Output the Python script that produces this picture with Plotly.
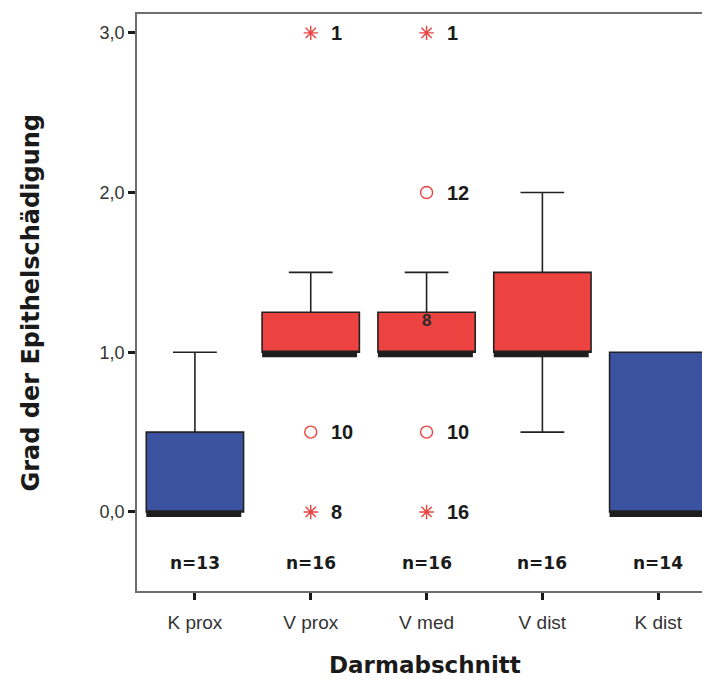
import plotly.graph_objects as go

# ---- data ----
categories = ["K prox", "V prox", "V med", "V dist", "K dist"]
q1 = [0.0, 1.0, 1.0, 1.0, 0.0]
median = [0.0, 1.0, 1.0, 1.0, 0.0]
q3 = [0.5, 1.25, 1.25, 1.5, 1.0]
lower_whisker = [0.0, 1.0, 1.0, 0.5, 0.0]
upper_whisker = [1.0, 1.5, 1.5, 2.0, 1.0]
box_colors = ["#3A52A0", "#EC4240", "#EC4240", "#EC4240", "#3A52A0"]
n_labels = ["n=13", "n=16", "n=16", "n=16", "n=14"]

# outliers: category, value, kind ("extreme" = star, "outlier" = circle), case label
outlier_cat = ["V prox", "V prox", "V prox", "V med", "V med", "V med", "V med"]
outlier_val = [3.0, 0.5, 0.0, 3.0, 2.0, 0.5, 0.0]
outlier_kind = ["extreme", "outlier", "extreme", "extreme", "outlier", "outlier", "extreme"]
outlier_lbl = ["1", "10", "8", "1", "12", "10", "16"]
# case label drawn inside the V med box (marker hidden by box)
hidden_cat = ["V med"]
hidden_val = [1.2]
hidden_lbl = ["8"]

y_ticks = [0.0, 1.0, 2.0, 3.0]

BOX_W = 0.84
fig = go.Figure()

for i, c in enumerate(categories):
    fig.add_trace(go.Box(
        x=[c], q1=[q1[i]], median=[median[i]], q3=[q3[i]],
        lowerfence=[lower_whisker[i]], upperfence=[upper_whisker[i]],
        fillcolor=box_colors[i], line=dict(color="#222222", width=1.6),
        width=BOX_W, whiskerwidth=0.45, boxpoints=False,
        showlegend=False, hoverinfo="skip"))

# thick median bars
for i, c in enumerate(categories):
    fig.add_shape(type="rect", xref="x", yref="y",
                  x0=i - BOX_W / 2, x1=i + BOX_W / 2 - 0.02,
                  ysizemode="pixel", yanchor=median[i], y0=1, y1=-5,
                  fillcolor="#1e1e1e", line=dict(width=0))

sym = {"extreme": "asterisk-open", "outlier": "circle-open"}
for kind in ["extreme", "outlier"]:
    xs = [outlier_cat[k] for k in range(len(outlier_cat)) if outlier_kind[k] == kind]
    ys = [outlier_val[k] for k in range(len(outlier_val)) if outlier_kind[k] == kind]
    fig.add_trace(go.Scatter(
        x=xs, y=ys, mode="markers",
        marker=dict(symbol=sym[kind], size=12,
                    color="#EC4240", line=dict(color="#EC4240", width=1.4)),
        showlegend=False, hoverinfo="skip"))

for k in range(len(outlier_cat)):
    fig.add_annotation(x=outlier_cat[k], y=outlier_val[k],
                       text="<b>" + outlier_lbl[k] + "</b>",
                       xanchor="left", yanchor="middle", xshift=18, showarrow=False,
                       font=dict(family="Liberation Sans", size=20, color="#1a1a1a"))
for k in range(len(hidden_cat)):
    fig.add_annotation(x=hidden_cat[k], y=hidden_val[k],
                       text="<b>" + hidden_lbl[k] + "</b>",
                       xanchor="center", yanchor="middle", showarrow=False,
                       font=dict(family="Liberation Sans", size=17, color="#2a2a2a"))

for i, c in enumerate(categories):
    fig.add_annotation(x=c, y=-0.32, text="<b>" + n_labels[i] + "</b>",
                       showarrow=False, xanchor="center", yanchor="middle",
                       font=dict(family="DejaVu Sans", size=17, color="#1a1a1a"))

# axis titles
fig.add_annotation(xref="paper", yref="paper", x=0, y=0.5, xshift=-107,
                   text="<b>Grad der Epithelschädigung</b>", textangle=-90,
                   showarrow=False, xanchor="center", yanchor="middle",
                   font=dict(family="DejaVu Sans", size=24, color="#1a1a1a"))
fig.add_annotation(xref="paper", yref="paper", x=0.51, y=0, yshift=-74,
                   text="<b>Darmabschnitt</b>",
                   showarrow=False, xanchor="center", yanchor="middle",
                   font=dict(family="DejaVu Sans", size=23, color="#1a1a1a"))

fig.update_layout(
    width=702, height=680,
    margin=dict(l=137, r=0, t=14, b=89),
    plot_bgcolor="white", paper_bgcolor="white",
    separators=",.",
    boxmode="overlay",
    showlegend=False,
)
fig.update_xaxes(
    type="category", categoryorder="array", categoryarray=categories,
    range=[-0.5, 4.378],
    showgrid=False, zeroline=False,
    showline=True, linecolor="#6e6e6e", linewidth=1.6, mirror=True,
    ticks="outside", ticklen=7, tickwidth=3, tickcolor="#1a1a1a",
    ticklabelstandoff=6,
    tickfont=dict(family="Liberation Sans", size=19, color="#333333"),
)
fig.update_yaxes(
    range=[-0.495, 3.118],
    tickvals=y_ticks, tickformat=".1f",
    showgrid=False, zeroline=False,
    showline=True, linecolor="#6e6e6e", linewidth=1.6,
    ticks="outside", ticklen=7, tickwidth=3, tickcolor="#1a1a1a",
    tickfont=dict(family="Liberation Sans", size=18, color="#333333"),
)

fig.write_html("out.html")
